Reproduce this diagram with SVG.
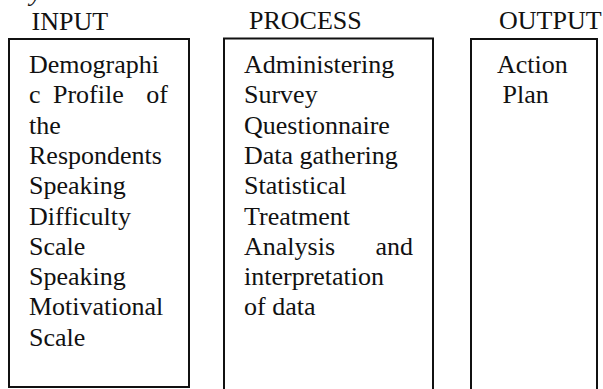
<svg xmlns="http://www.w3.org/2000/svg" width="603" height="389" viewBox="0 0 603 389">
  <style>
    .t { font-family: "Liberation Serif", "Times New Roman", serif; font-size: 26px; fill: #111; }
    .box { fill: none; stroke: #111; stroke-width: 2; }
  </style>
  <rect width="603" height="389" fill="#fff"/>

  <!-- tail of the caption line above, cut by the top edge -->
  <text class="t" x="30" y="1" font-style="italic">y</text>

  <!-- column headings -->
  <g id="headings">
    <text class="t" x="31.5" y="29.5">INPUT</text>
    <text class="t" x="249" y="29">PROCESS</text>
    <text class="t" x="499" y="29">OUTPUT</text>
  </g>

  <!-- column frames -->
  <g id="connectors"></g>

  <g id="input">
    <rect class="box" x="9" y="39" width="180" height="348"/>
    <text class="t" x="29" y="73">Demographi</text>
    <text class="t" x="29" y="103.3">c</text>
    <text class="t" x="53" y="103.3">Profile</text>
    <text class="t" x="168" y="103.3" text-anchor="end">of</text>
    <text class="t" x="29" y="133.6">the</text>
    <text class="t" x="29" y="163.9">Respondents</text>
    <text class="t" x="29" y="194.2">Speaking</text>
    <text class="t" x="29" y="224.5">Difficulty</text>
    <text class="t" x="29" y="254.8">Scale</text>
    <text class="t" x="29" y="285.1">Speaking</text>
    <text class="t" x="29" y="315.4">Motivational</text>
    <text class="t" x="29" y="345.7">Scale</text>
  </g>

  <g id="process">
    <path class="box" d="M224,392 V38.5 H433 V392"/>
    <text class="t" x="244" y="73">Administering</text>
    <text class="t" x="244" y="103.3">Survey</text>
    <text class="t" x="244" y="133.6">Questionnaire</text>
    <text class="t" x="244" y="163.9">Data gathering</text>
    <text class="t" x="244" y="194.2">Statistical</text>
    <text class="t" x="244" y="224.5">Treatment</text>
    <text class="t" x="244" y="254.8">Analysis</text>
    <text class="t" x="413" y="254.8" text-anchor="end">and</text>
    <text class="t" x="244" y="285.1">interpretation</text>
    <text class="t" x="244" y="315.4">of data</text>
  </g>

  <g id="output">
    <path class="box" d="M471,392 V39 H597 V392"/>
    <text class="t" x="497" y="72.7">Action</text>
    <text class="t" x="502.6" y="103">Plan</text>
  </g>
</svg>
